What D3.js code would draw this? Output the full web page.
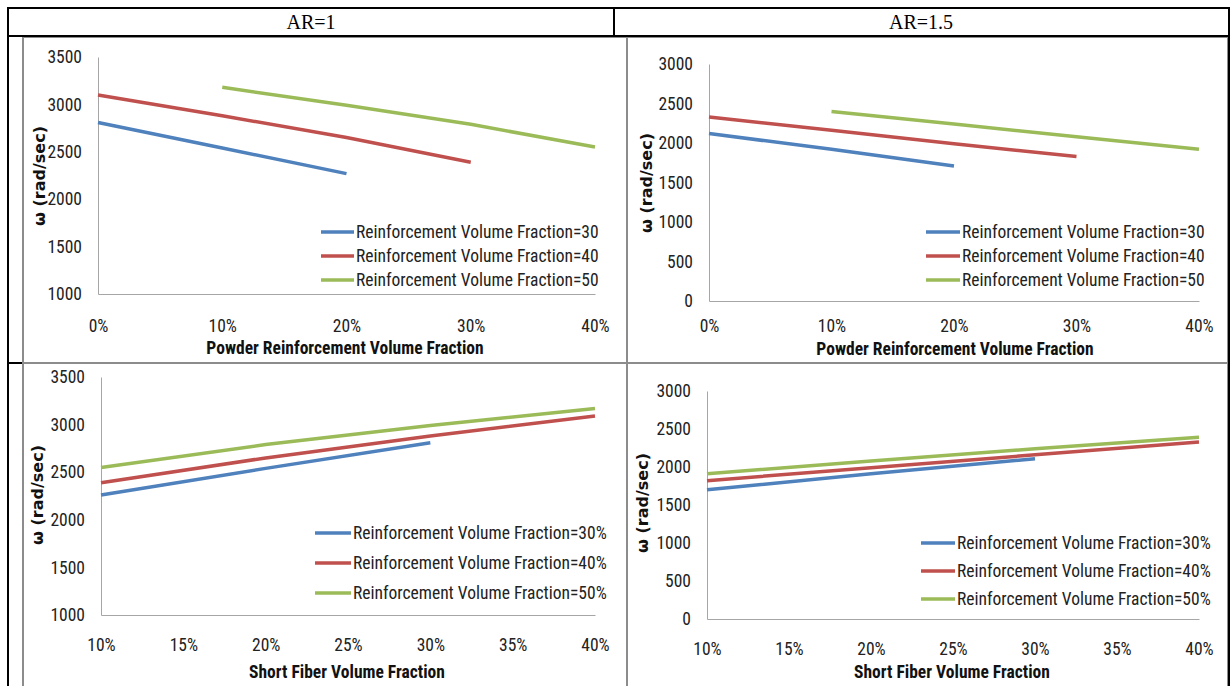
<!DOCTYPE html>
<html>
<head>
<meta charset="utf-8">
<script src="https://cdn.jsdelivr.net/npm/d3@7"></script>
<style>
  body { margin: 0; background: #fff; }
  svg { display: block; }
  .tick text { font-family: "Liberation Sans Narrow", "Roboto Condensed", "Roboto", sans-serif; fill: #222; }
</style>
</head>
<body>
<div id="chart"></div>
<script>
// column headers of the table
const headers = ["AR=1", "AR=1.5"];

// x values (percent)
const powderTicks = [0, 10, 20, 30, 40];
const fiberTicks = [10, 15, 20, 25, 30, 35, 40];
const xShort = [0, 10, 20];
const xLong = [0, 10, 20, 30];
const xShift = [10, 20, 30, 40];
const xFiberShort = [10, 20, 30];
const xFiberLong = [10, 20, 30, 40];

// y tick values
const ticksAR1 = [1000, 1500, 2000, 2500, 3000, 3500];
const ticksAR15 = [0, 500, 1000, 1500, 2000, 2500, 3000];

// legend labels
const powderLabels = ["Reinforcement Volume Fraction=30", "Reinforcement Volume Fraction=40", "Reinforcement Volume Fraction=50"];
const fiberLabels = ["Reinforcement Volume Fraction=30%", "Reinforcement Volume Fraction=40%", "Reinforcement Volume Fraction=50%"];

// omega (rad/sec)
const ar1PowderBlue = [2810, 2540, 2270];
const ar1PowderRed = [3100, 2880, 2650, 2390];
const ar1PowderGreen = [3180, 2990, 2790, 2550];
const ar15PowderBlue = [2120, 1920, 1710];
const ar15PowderRed = [2330, 2160, 1990, 1830];
const ar15PowderGreen = [2400, 2240, 2080, 1920];
const ar1FiberBlue = [2260, 2540, 2810];
const ar1FiberRed = [2390, 2650, 2880, 3090];
const ar1FiberGreen = [2550, 2790, 2990, 3170];
const ar15FiberBlue = [1700, 1910, 2110];
const ar15FiberRed = [1820, 1990, 2160, 2330];
const ar15FiberGreen = [1910, 2080, 2240, 2390];

const colors = ["#4F81BD", "#C0504D", "#9BBB59"];
const font = '"Liberation Sans Narrow", "Roboto Condensed", "Roboto", sans-serif';

const W = 1232, H = 686;
const svg = d3.select("#chart").append("svg")
    .attr("width", W)
    .attr("height", H);

// panel layout
const panels = [
  { box: [23, 37, 627, 363], x: [98, 595], y: [294, 57], yDom: [1000, 3500], yTicks: ticksAR1,
    xDom: [0, 40], xTicks: powderTicks, labelPad: 26,
    xTitle: "Powder Reinforcement Volume Fraction", xTitlePos: [345, 354], yTitlePos: [45, 176],
    series: [[xShort, ar1PowderBlue], [xLong, ar1PowderRed], [xShift, ar1PowderGreen]],
    labels: powderLabels, legend: [321, 354, 232, 24] },
  { box: [627, 37, 1228, 363], x: [709, 1199], y: [301, 64], yDom: [0, 3000], yTicks: ticksAR15,
    xDom: [0, 40], xTicks: powderTicks, labelPad: 19,
    xTitle: "Powder Reinforcement Volume Fraction", xTitlePos: [955, 355], yTitlePos: [652, 183],
    series: [[xShort, ar15PowderBlue], [xLong, ar15PowderRed], [xShift, ar15PowderGreen]],
    labels: powderLabels, legend: [926, 960, 232, 24] },
  { box: [23, 363, 627, 690], x: [101, 595], y: [615, 377], yDom: [1000, 3500], yTicks: ticksAR1,
    xDom: [10, 40], xTicks: fiberTicks, labelPad: 24,
    xTitle: "Short Fiber Volume Fraction", xTitlePos: [347, 678], yTitlePos: [43, 495],
    series: [[xFiberShort, ar1FiberBlue], [xFiberLong, ar1FiberRed], [xFiberLong, ar1FiberGreen]],
    labels: fiberLabels, legend: [315, 351, 533, 30] },
  { box: [627, 363, 1228, 690], x: [707, 1199], y: [619, 391], yDom: [0, 3000], yTicks: ticksAR15,
    xDom: [10, 40], xTicks: fiberTicks, labelPad: 24,
    xTitle: "Short Fiber Volume Fraction", xTitlePos: [952, 678], yTitlePos: [648, 503],
    series: [[xFiberShort, ar15FiberBlue], [xFiberLong, ar15FiberRed], [xFiberLong, ar15FiberGreen]],
    labels: fiberLabels, legend: [921, 955, 543, 28] }
];

panels.forEach(function(p) {
  const g = svg.append("g");

  // chart frame
  g.append("rect")
    .attr("x", p.box[0]).attr("y", p.box[1])
    .attr("width", p.box[2] - p.box[0]).attr("height", p.box[3] - p.box[1])
    .attr("fill", "#fff")
    .attr("stroke", "#8c8c8c")
    .attr("stroke-width", 2);

  const x = d3.scaleLinear().domain(p.xDom).range(p.x);
  const y = d3.scaleLinear().domain(p.yDom).range(p.y);

  // Y axis
  const ya = g.append("g")
    .attr("transform", `translate(${p.x[0]},0)`)
    .call(d3.axisLeft(y).tickValues(p.yTicks).tickSize(0).tickPadding(16).tickFormat(d3.format("d")));
  ya.select(".domain").attr("stroke", "#a6a6a6");
  ya.selectAll("text").style("font-size", "17.5px");

  // X axis
  const xa = g.append("g")
    .attr("transform", `translate(0,${p.y[0]})`)
    .call(d3.axisBottom(x).tickValues(p.xTicks).tickSize(0).tickPadding(p.labelPad).tickFormat(d => d + "%"));
  xa.select(".domain").attr("stroke", "#a6a6a6");
  xa.selectAll("text").style("font-size", "17.5px");

  // lines
  const line = d3.line().x(d => x(d[0])).y(d => y(d[1]));
  p.series.forEach(function(s, i) {
    g.append("path")
      .datum(d3.zip(s[0], s[1]))
      .attr("fill", "none")
      .attr("stroke", colors[i])
      .attr("stroke-width", 3.5)
      .attr("d", line);
  });

  // axis titles
  g.append("text")
    .attr("x", p.xTitlePos[0]).attr("y", p.xTitlePos[1])
    .attr("text-anchor", "middle")
    .style("font-family", font)
    .style("font-weight", "bold").style("font-size", "17.5px")
    .attr("fill", "#111")
    .text(p.xTitle);

  g.append("text")
    .attr("transform", `translate(${p.yTitlePos[0]},${p.yTitlePos[1]}) rotate(-90)`)
    .attr("text-anchor", "middle")
    .style("font-family", '"DejaVu Sans", sans-serif')
    .style("font-weight", "bold").style("font-size", "16px")
    .attr("fill", "#111")
    .text("ω (rad/sec)");

  // legend
  const lg = p.legend;
  p.labels.forEach(function(label, i) {
    const yy = lg[2] + i * lg[3];
    g.append("line")
      .attr("x1", lg[0]).attr("x2", lg[1])
      .attr("y1", yy).attr("y2", yy)
      .attr("stroke", colors[i]).attr("stroke-width", 3.5);
    g.append("text")
      .attr("x", lg[1] + 2).attr("y", yy)
      .attr("dy", "0.35em")
      .style("font-family", font)
      .style("font-size", "17.5px")
      .attr("fill", "#222")
      .text(label);
  });
});

// table borders
const tb = svg.append("g").attr("stroke", "#000").attr("stroke-width", 2);
tb.append("line").attr("x1", 7).attr("x2", 1230).attr("y1", 8).attr("y2", 8);
tb.append("line").attr("x1", 7).attr("x2", 1230).attr("y1", 36).attr("y2", 36);
tb.append("line").attr("x1", 8).attr("x2", 8).attr("y1", 7).attr("y2", H);
tb.append("line").attr("x1", 614).attr("x2", 614).attr("y1", 8).attr("y2", 36);
tb.append("line").attr("x1", 1229).attr("x2", 1229).attr("y1", 7).attr("y2", H);
tb.append("line").attr("x1", 8).attr("x2", 22).attr("y1", 363).attr("y2", 363);

// header texts
svg.selectAll(".hdr")
  .data(headers)
  .join("text")
  .attr("class", "hdr")
  .attr("x", (d, i) => i === 0 ? 311 : 921)
  .attr("y", 29)
  .attr("text-anchor", "middle")
  .style("font-family", '"Liberation Serif", "Times New Roman", serif')
  .style("font-size", "20px")
  .attr("fill", "#000")
  .text(d => d);
</script>
</body>
</html>
